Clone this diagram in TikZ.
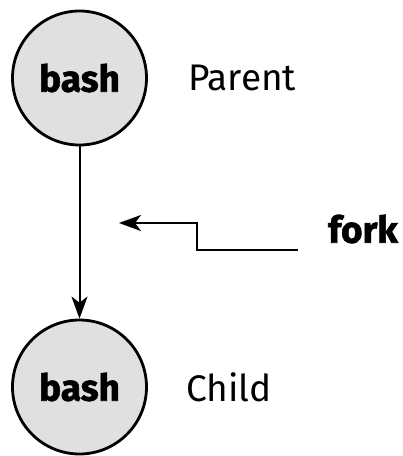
\documentclass[tikz,border=0pt]{standalone}
\usepackage{fontspec}
\setmainfont{Fira Sans}
\newfontfamily\heavyfont{Fira Sans}[BoldFeatures={FakeBold=1.6}]
\usetikzlibrary{arrows.meta}

\begin{document}
\begin{tikzpicture}[x=1pt, y=-1pt, line width=2pt,
    proc/.style={circle, draw, line width=2.8pt, fill=black!12, minimum size=134pt,
                 inner sep=0pt, font=\heavyfont\fontsize{37}{40}\selectfont\bfseries},
    role/.style={anchor=west, font=\fontsize{37}{40}\selectfont},
    tip/.style={-{Stealth[length=22pt, width=16pt, inset=6pt]}}]
  \useasboundingbox (0,0) rectangle (403,456);
  % 两个进程
  \node[proc] (parent) at (79.5,78)  {bash};
  \node[proc] (child)  at (79.5,387) {bash};
  \node[role] (lparent) at (184,78)  {Parent};
  \node[role] (lchild)  at (182,387) {Child};
  % 父进程 -> 子进程
  \draw[tip] (parent) -- (child);
  % fork 标注
  \node[font=\heavyfont\fontsize{37}{40}\selectfont\bfseries] (fork) at (363,229) {fork};
  \coordinate (ftail) at (298,250);
  \coordinate (fbend) at (197,250);
  \coordinate (fhead) at (119,223);
  \draw[tip] (ftail) -- (fbend) -- (fbend |- fhead) -- (fhead);
\end{tikzpicture}
\end{document}
